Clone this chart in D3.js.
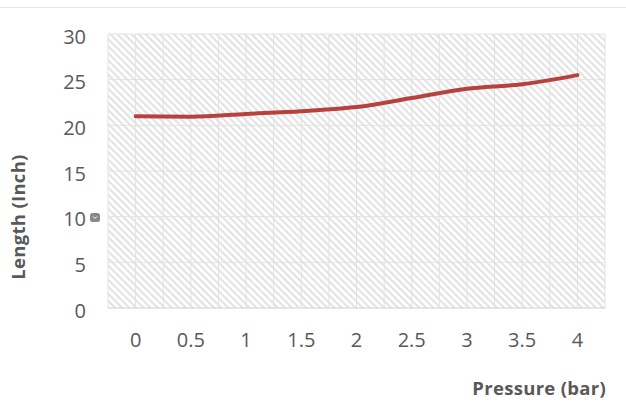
<!DOCTYPE html>
<html>
<head>
<meta charset="utf-8">
<script src="https://cdn.jsdelivr.net/npm/d3@7/dist/d3.min.js"></script>
<style>
  html, body { margin: 0; padding: 0; background: #fff; }
  svg { display: block; font-family: "Open Sans", "Lato", sans-serif; }
</style>
</head>
<body>
<svg id="chart" width="626" height="405"></svg>
<script>
// Length of the sample measured at each pressure step
const pressures = ["0", "0.5", "1", "1.5", "2", "2.5", "3", "3.5", "4"];
const lengths = [21, 20.95, 21.25, 21.55, 22, 23, 24, 24.5, 25.5];
const yTicks = [0, 5, 10, 15, 20, 25, 30];

const W = 626, H = 405;
const margin = { left: 108, right: 21, top: 34, bottom: 97 };
const svg = d3.select("#chart");

// Thin rule along the top of the frame
svg.append("line")
  .attr("x1", 0).attr("x2", W).attr("y1", 7.5).attr("y2", 7.5)
  .attr("stroke", "#e8e8e8").attr("stroke-width", 1);

// Diagonal hatch used to fill the plot area
const defs = svg.append("defs");
const pat = defs.append("pattern")
  .attr("id", "hatch").attr("patternUnits", "userSpaceOnUse")
  .attr("width", 5).attr("height", 5)
  .attr("patternTransform", "rotate(45)");
pat.append("rect").attr("width", 5).attr("height", 5).attr("fill", "#ffffff");
pat.append("line").attr("x1", 0).attr("x2", 5).attr("y1", 1.25).attr("y2", 1.25)
  .attr("stroke", "#dedede").attr("stroke-width", 1.8);

const x = d3.scaleBand().domain(pressures)
  .range([margin.left, W - margin.right]).paddingInner(0).paddingOuter(0);
const y = d3.scaleLinear().domain([0, 30]).range([H - margin.bottom, margin.top]);
const cx = d => x(d) + x.bandwidth() / 2;

svg.append("rect")
  .attr("x", margin.left).attr("y", margin.top)
  .attr("width", W - margin.left - margin.right)
  .attr("height", H - margin.top - margin.bottom)
  .attr("fill", "url(#hatch)");

// Vertical gridlines: category boundaries and centres
const vLines = [];
pressures.forEach(p => { vLines.push(x(p)); vLines.push(cx(p)); });
vLines.push(x(pressures[pressures.length - 1]) + x.bandwidth());
svg.append("g").selectAll("line").data(vLines).join("line")
  .attr("x1", d => d).attr("x2", d => d)
  .attr("y1", margin.top).attr("y2", H - margin.bottom)
  .attr("stroke", "#e2e2e2").attr("stroke-width", 1);

// Horizontal gridlines
svg.append("g").selectAll("line").data(yTicks).join("line")
  .attr("x1", margin.left).attr("x2", W - margin.right)
  .attr("y1", d => y(d)).attr("y2", d => y(d))
  .attr("stroke", d => d === 0 ? "#d0d0d0" : "#e2e2e2").attr("stroke-width", 1);

// Y axis tick labels
const yAxis = d3.axisLeft(y).tickValues(yTicks).tickSize(0).tickPadding(22);
const gy = svg.append("g").attr("transform", `translate(${margin.left},0)`).call(yAxis);
gy.select(".domain").remove();
gy.selectAll("text").attr("font-size", 20).attr("fill", "#595959")
  .attr("dy", "0.45em")
  .attr("font-family", "Open Sans, sans-serif");

// X axis tick labels
const xAxis = d3.axisBottom(x).tickSize(0).tickPadding(25);
const gx = svg.append("g").attr("transform", `translate(0,${H - margin.bottom})`).call(xAxis);
gx.select(".domain").remove();
gx.selectAll("text").attr("font-size", 20).attr("fill", "#595959")
  .attr("font-family", "Open Sans, sans-serif");

// Small chart-element badge next to the axis
svg.append("rect").attr("x", 90).attr("y", 213).attr("width", 10).attr("height", 9)
  .attr("rx", 2.5).attr("fill", "#8a8a8a");
svg.append("path").attr("d", "M93,216.5 L95,218.5 L97,216.5")
  .attr("fill", "none").attr("stroke", "#ffffff").attr("stroke-width", 1);

// Data line
const line = d3.line()
  .x((d, i) => cx(pressures[i]))
  .y(d => y(d))
  .curve(d3.curveMonotoneX);
svg.append("path").datum(lengths)
  .attr("d", line)
  .attr("fill", "none")
  .attr("stroke", "#b6423d")
  .attr("stroke-width", 4)
  .attr("stroke-linecap", "round");

// Axis titles
svg.append("text")
  .attr("transform", "translate(25,217) rotate(-90)")
  .attr("text-anchor", "middle")
  .attr("font-size", 18.5).attr("font-weight", "bold").attr("fill", "#595959")
  .attr("letter-spacing", 0.3)
  .text("Length (Inch)");

svg.append("text")
  .attr("x", 606).attr("y", 395)
  .attr("text-anchor", "end")
  .attr("font-size", 18.5).attr("font-weight", "bold").attr("fill", "#595959")
  .attr("letter-spacing", 0.3)
  .text("Pressure (bar)");
</script>
</body>
</html>
